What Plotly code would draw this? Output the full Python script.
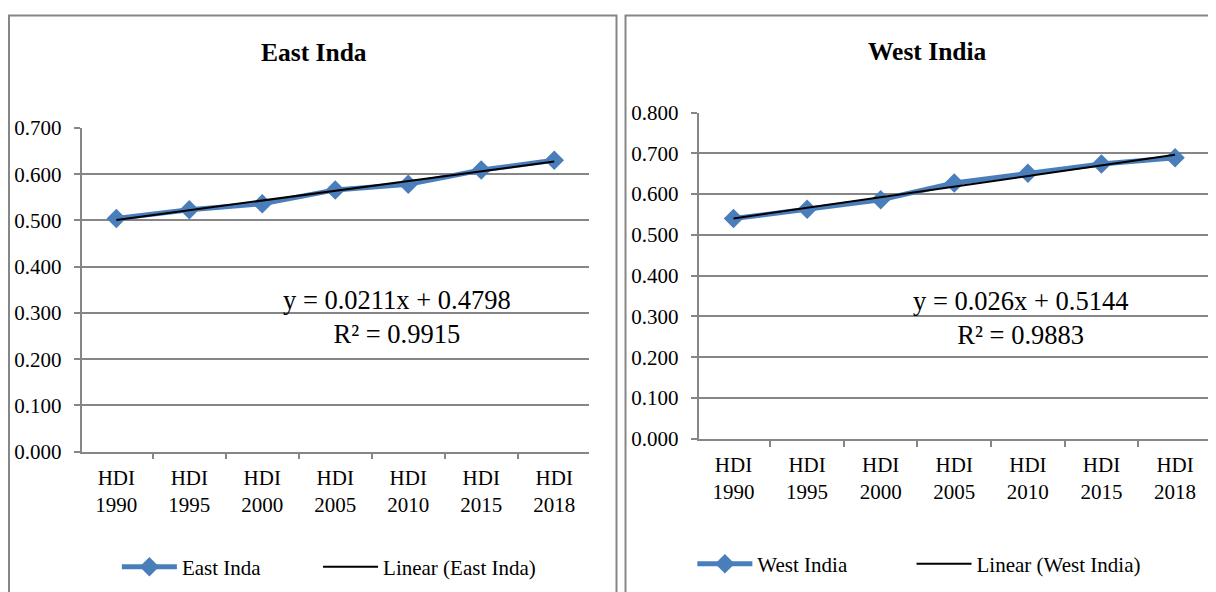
import plotly.graph_objects as go

W, H = 1216, 592

categories = ["HDI<br>1990", "HDI<br>1995", "HDI<br>2000", "HDI<br>2005",
              "HDI<br>2010", "HDI<br>2015", "HDI<br>2018"]
east_values = [0.504, 0.523, 0.536, 0.566, 0.578, 0.609, 0.630]
west_values = [0.540, 0.563, 0.586, 0.627, 0.651, 0.674, 0.689]
east_trend = {"slope": 0.0211, "intercept": 0.4798, "r2": 0.9915}
west_trend = {"slope": 0.026, "intercept": 0.5144, "r2": 0.9883}
east_title = "East Inda"
west_title = "West India"

FONT = "Liberation Serif, Times New Roman, serif"
BLUE = "#4A7EBB"
GRID = "#868686"

# observed placement of the paper area inside the photographed page
X0, SX = 8.5, 1215.0
Y0, SY = 18.0, 571.0


def px_x(v):
    return min(1.0, max(0.0, (v - X0) / SX))


def px_y(v):
    return min(1.0, max(0.0, 1 - (v - Y0) / SY))


def px_x_free(v):
    return (v - X0) / SX


def px_y_free(v):
    return 1 - (v - Y0) / SY


def trend(coef, n):
    return [coef["slope"] * (i + 1) + coef["intercept"] for i in range(n)]


TEXT_OFFSET = 64.7  # legend left edge -> legend text start

fig = go.Figure()

fig.add_trace(go.Scatter(x=categories, y=east_values, mode="lines+markers", name=east_title,
                         line=dict(color=BLUE, width=5),
                         marker=dict(symbol="diamond", size=15, color=BLUE),
                         xaxis="x", yaxis="y", legend="legend"))
fig.add_trace(go.Scatter(x=categories, y=trend(east_trend, len(categories)), mode="lines",
                         name="Linear (" + east_title + ")",
                         line=dict(color="black", width=2),
                         xaxis="x", yaxis="y", legend="legend2"))
fig.add_trace(go.Scatter(x=categories, y=west_values, mode="lines+markers", name=west_title,
                         line=dict(color=BLUE, width=5),
                         marker=dict(symbol="diamond", size=15, color=BLUE),
                         xaxis="x2", yaxis="y2", legend="legend3"))
fig.add_trace(go.Scatter(x=categories, y=trend(west_trend, len(categories)), mode="lines",
                         name="Linear (" + west_title + ")",
                         line=dict(color="black", width=2),
                         xaxis="x2", yaxis="y2", legend="legend4"))

xcommon = dict(type="category", categoryorder="array", categoryarray=categories,
               tickson="boundaries", ticks="outside", ticklen=6, tickcolor=GRID, tickwidth=1.5,
               showline=True, linecolor=GRID, linewidth=1.5, showgrid=False, zeroline=False,
               ticklabelstandoff=6,
               tickfont=dict(family=FONT, size=21, color="black"), fixedrange=True)
ycommon = dict(dtick=0.1, tickformat=".3f", ticks="outside", ticklen=6, tickcolor=GRID, tickwidth=1.5,
               showline=True, linecolor=GRID, linewidth=1.5, showgrid=True, gridcolor=GRID,
               gridwidth=1.5, zeroline=False, ticklabelstandoff=8,
               tickfont=dict(family=FONT, size=21, color="black"), fixedrange=True)

legcommon = dict(orientation="h", font=dict(family=FONT, size=21, color="black"),
                 bgcolor="rgba(0,0,0,0)", yanchor="middle", xanchor="left",
                 itemwidth=55)

fig.update_layout(
    width=W, height=H, margin=dict(l=0, r=0, t=0, b=0),
    paper_bgcolor="white", plot_bgcolor="white", showlegend=True,
    xaxis=dict(xcommon, domain=[px_x(82), px_x(589)], anchor="y"),
    yaxis=dict(ycommon, domain=[px_y(452), px_y(126.5)], range=[0, 0.7], anchor="x"),
    xaxis2=dict(xcommon, domain=[px_x(698.5), px_x(1209.5)], anchor="y2"),
    yaxis2=dict(ycommon, domain=[px_y(439), px_y(111)], range=[0, 0.8], anchor="x2"),
    legend=dict(legcommon, x=px_x(182 - TEXT_OFFSET), y=px_y(568)),
    legend2=dict(legcommon, x=px_x(383 - TEXT_OFFSET), y=px_y(568)),
    legend3=dict(legcommon, x=px_x(757 - TEXT_OFFSET), y=px_y(565)),
    legend4=dict(legcommon, x=px_x(976 - TEXT_OFFSET), y=px_y(565)),
    shapes=[
        dict(type="rect", xref="paper", yref="paper", x0=px_x_free(9.5), x1=px_x_free(616.5),
             y0=px_y_free(640), y1=px_y_free(13.5), line=dict(color=GRID, width=2)),
        dict(type="rect", xref="paper", yref="paper", x0=px_x_free(625.5), x1=px_x_free(1260),
             y0=px_y_free(640), y1=px_y_free(13.5), line=dict(color=GRID, width=2)),
    ],
    annotations=[
        dict(text="<b>" + east_title + "</b>", x=px_x(314), y=px_y(51), xref="paper", yref="paper",
             xanchor="center", yanchor="middle", showarrow=False,
             font=dict(family=FONT, size=25.5, color="black")),
        dict(text="<b>" + west_title + "</b>", x=px_x(927), y=px_y(50), xref="paper", yref="paper",
             xanchor="center", yanchor="middle", showarrow=False,
             font=dict(family=FONT, size=25.5, color="black")),
        dict(text="y = %.4fx + %.4f<br>R² = %.4f" % (east_trend["slope"], east_trend["intercept"], east_trend["r2"]),
             x=px_x(397.5), y=px_y(317), xref="paper", yref="paper", showarrow=False,
             xanchor="center", yanchor="middle",
             font=dict(family=FONT, size=26.5, color="black")),
        dict(text="y = %.3fx + %.4f<br>R² = %.4f" % (west_trend["slope"], west_trend["intercept"], west_trend["r2"]),
             x=px_x(1020.5), y=px_y(318), xref="paper", yref="paper", showarrow=False,
             xanchor="center", yanchor="middle",
             font=dict(family=FONT, size=26.5, color="black")),
    ],
)

fig.write_html("out.html")
